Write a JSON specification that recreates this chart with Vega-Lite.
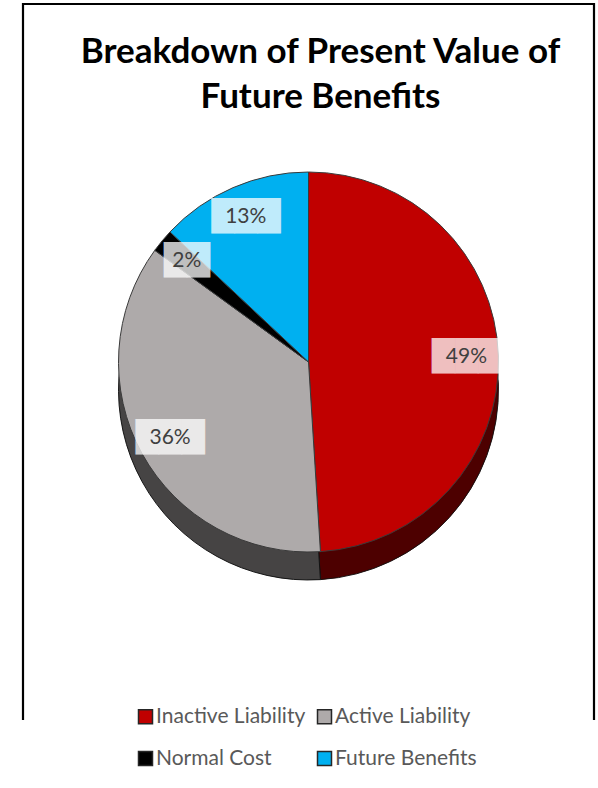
{
  "$schema": "https://vega.github.io/schema/vega-lite/v6.json",
  "width": 571,
  "height": 716,
  "autosize": {"type": "none"},
  "padding": {"left": 23, "top": 4, "right": 4, "bottom": 70},
  "background": "white",
  "view": {"stroke": "#000000", "strokeWidth": 2.2, "strokeDash": [1287, 571, 720, 1]},
  "config": {
    "font": "Lato",
    "legend": {
      "orient": "none",
      "direction": "horizontal",
      "legendX": 112,
      "legendY": 702,
      "columns": 2,
      "symbolType": "square",
      "symbolSize": 196,
      "symbolStrokeColor": "#262626",
      "symbolStrokeWidth": 1.5,
      "labelFont": "Lato",
      "labelFontSize": 21,
      "labelColor": "#595959",
      "labelOffset": 0,
      "labelLimit": 300,
      "columnPadding": 8,
      "rowPadding": 20
    }
  },
  "title": {
    "text": ["Breakdown of Present Value of", "Future Benefits"],
    "orient": "top",
    "anchor": "middle",
    "baseline": "alphabetic",
    "offset": -139,
    "dx": 12,
    "fontSize": 35,
    "font": "Lato",
    "fontWeight": "bold",
    "color": "#000000",
    "lineHeight": 45
  },
  "data": {
    "values": [
      {"category": "Inactive Liability", "share": 0.49, "ord": 1},
      {"category": "Active Liability", "share": 0.36, "ord": 2},
      {"category": "Normal Cost", "share": 0.02, "ord": 3},
      {"category": "Future Benefits", "share": 0.13, "ord": 4}
    ]
  },
  "transform": [
    {"calculate": "format(datum.share, '.0%')", "as": "label"},
    {"calculate": "pad('', length(datum.label), '█')", "as": "box"}
  ],
  "encoding": {
    "theta": {"field": "share", "type": "quantitative", "stack": true},
    "order": {"field": "ord", "type": "quantitative"},
    "detail": {"field": "category", "type": "nominal"}
  },
  "layer": [
    {
      "mark": {"type": "arc", "outerRadius": 190, "yOffset": 28, "stroke": "#262626", "strokeWidth": 1},
      "encoding": {
        "color": {
          "field": "category", "type": "nominal",
          "scale": {
            "domain": ["Inactive Liability", "Active Liability", "Normal Cost", "Future Benefits"],
            "range": ["#C00000", "#AEAAAA", "#000000", "#00B0F0"]
          },
          "legend": {"title": null}
        }
      }
    },
    {
      "mark": {"type": "arc", "outerRadius": 190, "yOffset": 28, "color": "#000000", "opacity": 0.6}
    },
    {
      "mark": {"type": "arc", "outerRadius": 190, "stroke": "#3a3a3a", "strokeWidth": 1},
      "encoding": {
        "color": {
          "field": "category", "type": "nominal",
          "scale": {
            "domain": ["Inactive Liability", "Active Liability", "Normal Cost", "Future Benefits"],
            "range": ["#C00000", "#AEAAAA", "#000000", "#00B0F0"]
          },
          "legend": {"title": null}
        }
      }
    },
    {
      "mark": {"type": "text", "radius": 158, "font": "DejaVu Sans", "fontSize": 30, "color": "#FFFFFF", "opacity": 0.75, "baseline": "middle", "align": "center"},
      "encoding": {"text": {"field": "box"}}
    },
    {
      "mark": {"type": "text", "radius": 158, "font": "Lato", "fontSize": 21, "color": "#404040", "baseline": "middle", "align": "center"},
      "encoding": {"text": {"field": "label"}}
    }
  ]
}
